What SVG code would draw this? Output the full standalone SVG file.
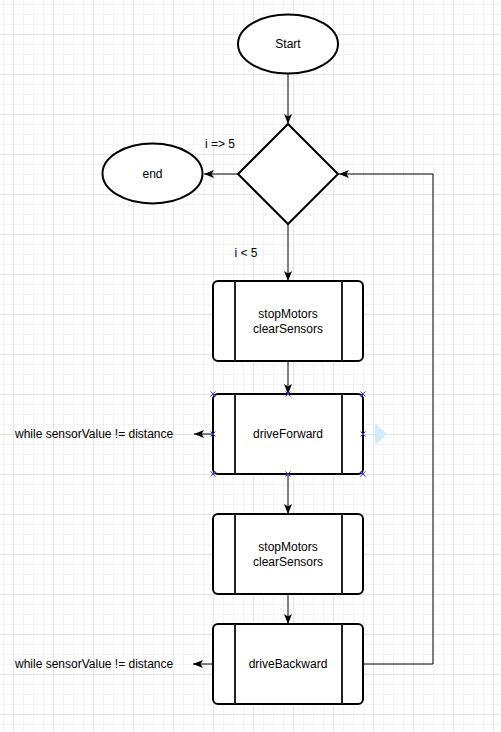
<svg xmlns="http://www.w3.org/2000/svg" width="501" height="732" viewBox="0 0 501 732">
<defs>
<pattern id="minor" x="3" y="4" width="10" height="10" patternUnits="userSpaceOnUse">
<rect x="0" y="0" width="1" height="10" fill="#f3f3f3"/>
<rect x="0" y="0" width="10" height="1" fill="#f3f3f3"/>
</pattern>
<pattern id="major" x="13" y="34" width="40" height="40" patternUnits="userSpaceOnUse">
<rect x="0" y="0" width="1" height="40" fill="#e4e4e4"/>
<rect x="0" y="0" width="40" height="1" fill="#e4e4e4"/>
</pattern>
<marker id="arr" viewBox="0 0 10 8" refX="10" refY="4" markerWidth="10" markerHeight="8" markerUnits="userSpaceOnUse" orient="auto">
<path d="M0,0 L10,4 L0,8 L2.5,4 Z" fill="#000"/>
</marker>
<g id="xm"><path d="M-2.5,-2.5 L2.5,2.5 M-2.5,2.5 L2.5,-2.5" stroke="#3333ff" stroke-width="1"/></g>
</defs>
<style>
.shape{fill:#fff;stroke:#000;stroke-width:2}
.inner{stroke:#222;stroke-width:2}
.edge{fill:none;stroke:#000;stroke-width:1;marker-end:url(#arr)}
text{font-family:"Liberation Sans",Arial,sans-serif;font-size:12px;fill:#000;text-anchor:middle}
.lbl{text-anchor:start}
</style>
<rect width="501" height="732" fill="#fff"/>
<rect width="501" height="732" fill="url(#minor)"/>
<rect width="501" height="732" fill="url(#major)"/>

<g id="connectors">
<path class="edge" d="M288,74 L288,124"/>
<path class="edge" d="M238,174 L204,174"/>
<path class="edge" d="M288,224 L288,281"/>
<path class="edge" d="M288,361 L288,394"/>
<path class="edge" d="M213,434 L194,434"/>
<path class="edge" d="M288,474 L288,514"/>
<path class="edge" d="M288,594 L288,624"/>
<path class="edge" d="M213,664 L193,664"/>
<path class="edge" d="M363,664 L433,664 L433,174 L339,174"/>
</g>

<g id="start">
<ellipse class="shape" cx="288" cy="44" rx="50" ry="29.5"/>
<text x="288" y="48">Start</text>
</g>

<g id="decision">
<path class="shape" d="M288,124 L338,174 L288,224 L238,174 Z"/>
</g>

<g id="end">
<ellipse class="shape" cx="152.5" cy="173.5" rx="50" ry="30"/>
<text x="152.5" y="178">end</text>
</g>

<g id="label-ge5">
<text x="220" y="148">i =&gt; 5</text>
</g>
<g id="label-lt5">
<text x="246" y="257">i &lt; 5</text>
</g>

<g id="stop1">
<rect class="shape" x="213" y="281" width="150" height="80" rx="5"/>
<line class="inner" x1="235" y1="281" x2="235" y2="361"/>
<line class="inner" x1="342" y1="281" x2="342" y2="361"/>
<text x="288" y="318">stopMotors</text>
<text x="288" y="333">clearSensors</text>
</g>

<g id="driveForward">
<rect class="shape" x="213" y="394" width="150" height="80" rx="5"/>
<line class="inner" x1="235" y1="394" x2="235" y2="474"/>
<line class="inner" x1="342" y1="394" x2="342" y2="474"/>
<text x="288" y="438">driveForward</text>
<use href="#xm" x="213" y="394"/>
<use href="#xm" x="288" y="394"/>
<use href="#xm" x="363" y="394"/>
<use href="#xm" x="213" y="434"/>
<use href="#xm" x="363" y="434"/>
<use href="#xm" x="213" y="474"/>
<use href="#xm" x="288" y="474"/>
<use href="#xm" x="363" y="474"/>
<path d="M375,423 L387,434 L375,445 Z" fill="#d2ecf8"/>
</g>

<g id="label-fwd">
<text class="lbl" x="15" y="438">while sensorValue != distance</text>
</g>

<g id="stop2">
<rect class="shape" x="213" y="514" width="150" height="80" rx="5"/>
<line class="inner" x1="235" y1="514" x2="235" y2="594"/>
<line class="inner" x1="342" y1="514" x2="342" y2="594"/>
<text x="288" y="551">stopMotors</text>
<text x="288" y="566">clearSensors</text>
</g>

<g id="driveBackward">
<rect class="shape" x="213" y="624" width="150" height="80" rx="5"/>
<line class="inner" x1="235" y1="624" x2="235" y2="704"/>
<line class="inner" x1="342" y1="624" x2="342" y2="704"/>
<text x="288" y="668">driveBackward</text>
</g>

<g id="label-bwd">
<text class="lbl" x="15" y="668">while sensorValue != distance</text>
</g>
</svg>
